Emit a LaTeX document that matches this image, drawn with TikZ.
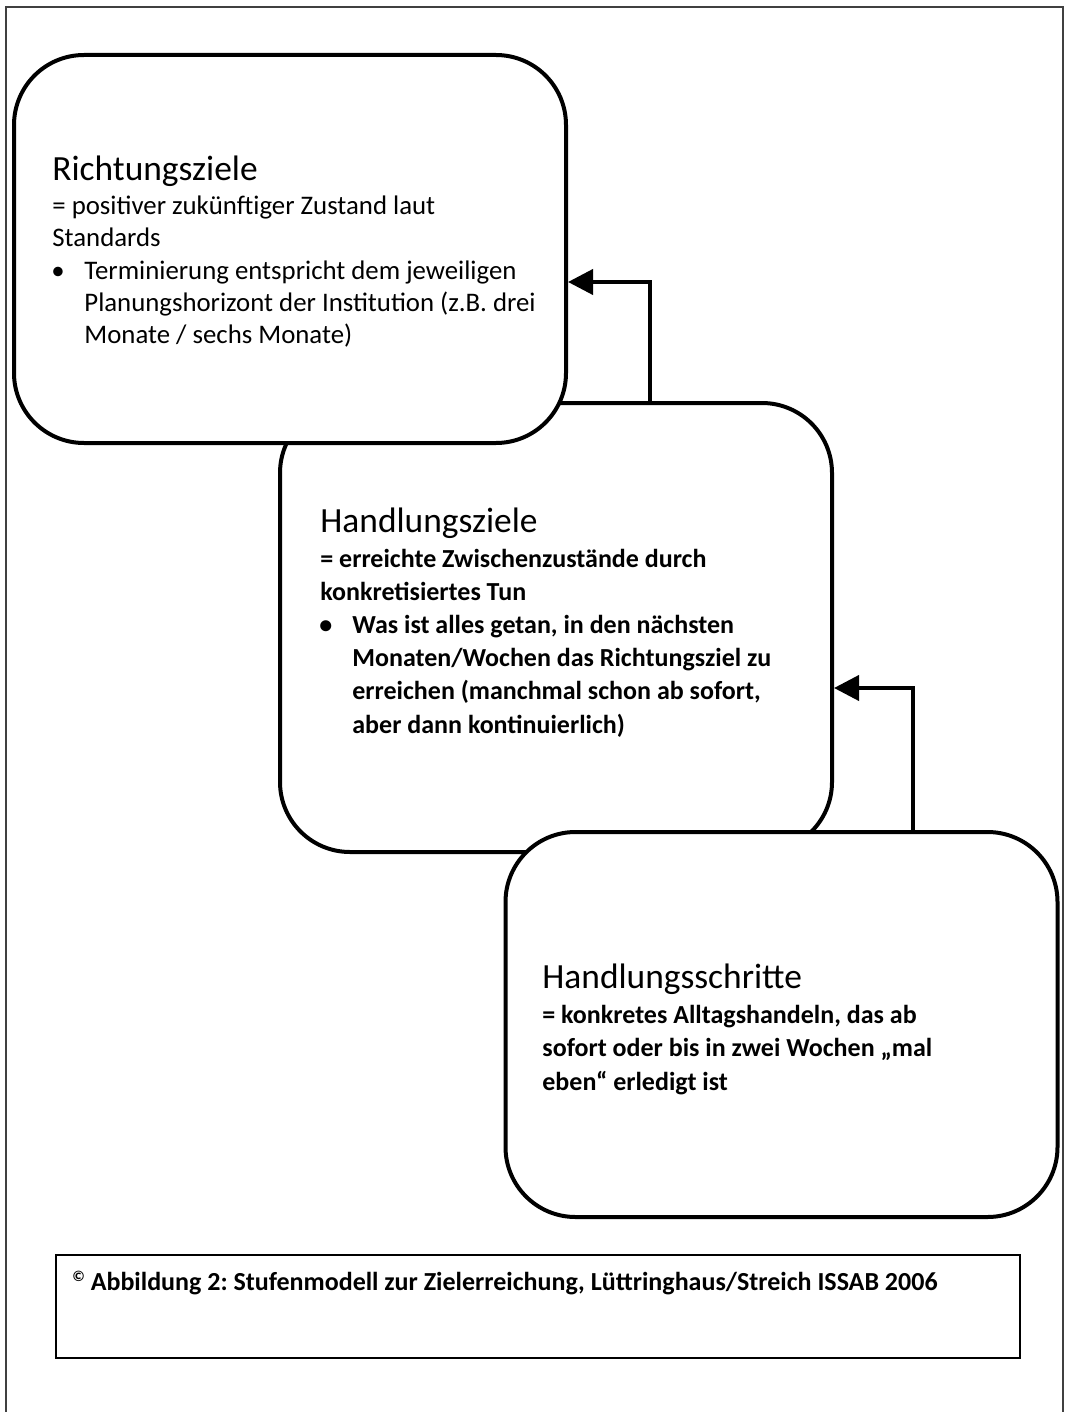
\documentclass[tikz,border=0pt]{standalone}
\usepackage{fontspec}
\setmainfont{Carlito}
\usetikzlibrary{arrows.meta,positioning}
\newcommand\punkt{\makebox[16pt][l]{\hspace*{-0.5pt}\textbullet}}
\newcommand\einzug{\hspace*{16pt}}
\frenchspacing

\begin{document}
\begin{tikzpicture}[x=0.5pt,y=-0.5pt,
ziel/.style={draw,fill=white,line width=2pt,rounded corners=35pt,
minimum width=276pt,inner sep=0pt},
titel/.style={anchor=base west,inner sep=0pt,font=\fontsize{17.7}{21}\selectfont},
inhalt/.style={anchor=base west,inner sep=0pt,align=left},
pfeil/.style={line width=2pt,-{Triangle[length=12.5pt,width=12.5pt]}}]
\useasboundingbox (0,0) rectangle (1067,1412);
\draw[black!75,line width=1pt] (6,1412) -- (6,7) -- (1063,7) -- (1063,1412);

\node[ziel,minimum height=224.5pt] (hz) at (556,627.5) {};
\node[ziel,minimum height=194pt] (rz) at (290,249) {};
\node[ziel,minimum height=192.5pt] (hs) at (781.5,1024.5) {};

\node[titel] (rzt) at (52,181) {Richtungsziele};
\node[inhalt,font=\fontsize{13.4}{16}\selectfont] (rzi) at (52,343)
{= positiver zukünftiger Zustand laut\\
Standards\\
\punkt Terminierung entspricht dem jeweiligen\\
\einzug Planungshorizont der Institution (z.B. drei\\
\einzug Monate / sechs Monate)};

\node[titel] (hzt) at (320,532) {Handlungsziele};
\node[inhalt,font=\fontsize{13}{16.6}\selectfont\bfseries] (hzi) at (320,733)
{= erreichte Zwischenzustände durch\\
konkretisiertes Tun\\
\punkt Was ist alles getan, in den nächsten\\
\einzug Monaten/Wochen das Richtungsziel zu\\
\einzug erreichen (manchmal schon ab sofort,\\
\einzug aber dann kontinuierlich)};

\node[titel] (hst) at (542,988) {Handlungsschritte};
\node[inhalt,font=\fontsize{13}{16.75}\selectfont\bfseries] (hsi) at (542,1090)
{= konkretes Alltagshandeln, das ab\\
sofort oder bis in zwei Wochen „mal\\
eben“ erledigt ist};

\draw[pfeil] ([xshift=47pt]hz.north) |- ([yshift=-16.5pt]rz.east);
\draw[pfeil] ([xshift=65.75pt]hs.north) |- ([yshift=-30.25pt]hz.east);

\node[draw,line width=1pt,minimum width=482pt,minimum height=51.5pt,inner sep=0pt] (abb) at (538,1306.5) {};
\node[inhalt,font=\fontsize{13}{15}\selectfont\bfseries] (abbt) at (72,1290)
{\raisebox{4.5pt}{\fontsize{7.5}{8}\selectfont ©} Abbildung 2: Stufenmodell zur Zielerreichung, Lüttringhaus/Streich ISSAB 2006};
\end{tikzpicture}
\end{document}
